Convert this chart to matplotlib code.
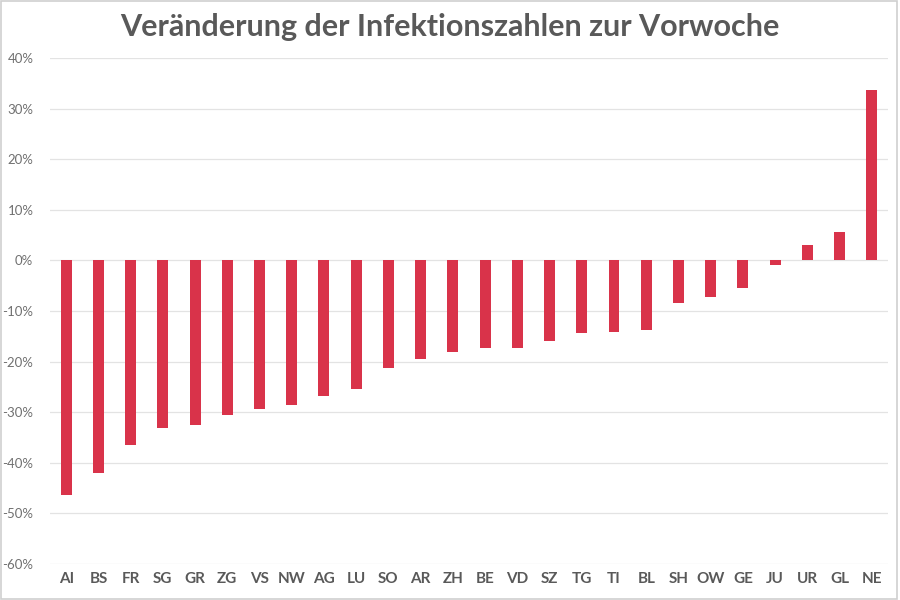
import matplotlib
matplotlib.use("Agg")
import matplotlib.pyplot as plt
from matplotlib.patches import Rectangle
from matplotlib.ticker import FuncFormatter

cantons = ["AI", "BS", "FR", "SG", "GR", "ZG", "VS", "NW", "AG", "LU", "SO", "AR", "ZH",
           "BE", "VD", "SZ", "TG", "TI", "BL", "SH", "OW", "GE", "JU", "UR", "GL", "NE"]
change_pct = [-46.3, -42.1, -36.4, -33.2, -32.5, -30.5, -29.3, -28.6, -26.7, -25.4, -21.3,
              -19.5, -18.1, -17.4, -17.4, -16.0, -14.3, -14.2, -13.7, -8.5, -7.2, -5.5,
              -1.0, 3.0, 5.7, 33.6]
y_ticks = [-60, -50, -40, -30, -20, -10, 0, 10, 20, 30, 40]

plt.rcParams['font.family'] = ['Lato', 'DejaVu Sans']

fig = plt.figure(figsize=(9, 6), dpi=100)
ax = fig.add_axes([0.0556, 0.06, 0.931, 0.8433])

x = list(range(len(cantons)))
ax.bar(x, change_pct, width=0.34, color='#D9334A', zorder=3)

ax.set_xlim(-0.5, len(cantons) - 0.5)
ax.set_ylim(-60, 40)
ax.set_yticks(y_ticks)
ax.yaxis.set_major_formatter(FuncFormatter(lambda v, p: f"{int(v)}%"))
ax.set_xticks(x)
ax.set_xticklabels(cantons, fontsize=11, fontweight='bold', color='#595959')
ax.tick_params(axis='y', labelsize=9.5, labelcolor='#707070', length=0, pad=12)
ax.tick_params(axis='x', length=0, pad=6)
ax.grid(axis='y', color='#e3e3e3', linewidth=0.9, zorder=0)
for s in ax.spines.values():
    s.set_visible(False)

fig.text(0.5, 0.955, "Veränderung der Infektionszahlen zur Vorwoche", ha='center', va='center',
         fontsize=22, fontweight='bold', color='#595959')

fig.patches.append(Rectangle((0.001, 0.001), 0.996, 0.997, transform=fig.transFigure,
                             fill=False, edgecolor='#cfcfcf', linewidth=1.2))

fig.savefig("out.png", dpi=100, facecolor='white')
